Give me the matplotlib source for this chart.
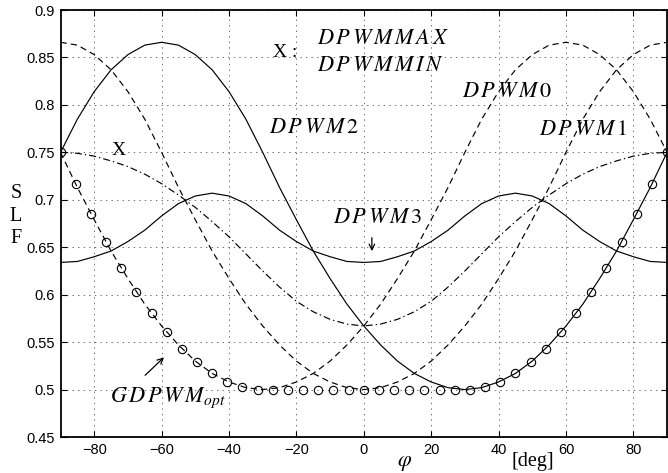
import numpy as np
import matplotlib
matplotlib.use('Agg')
import matplotlib.pyplot as plt

plt.rcParams['font.family'] = ['Liberation Sans', 'DejaVu Sans']
plt.rcParams['mathtext.fontset'] = 'stix'
plt.rcParams['lines.scale_dashes'] = False

# switching loss function vs. phase angle
phi = [-90, -85, -80, -75, -70, -65, -60, -55, -50, -45, -40, -35, -30, -25, -20, -15, -10, -5, 0,
       5, 10, 15, 20, 25, 30, 35, 40, 45, 50, 55, 60, 65, 70, 75, 80, 85, 90]

dpwm0 = [0.750, 0.713, 0.679, 0.646, 0.617, 0.590, 0.567, 0.547, 0.530, 0.517, 0.508, 0.502, 0.500,
         0.502, 0.508, 0.517, 0.530, 0.547, 0.567, 0.590, 0.617, 0.646, 0.679, 0.713, 0.750, 0.785,
         0.814, 0.837, 0.853, 0.863, 0.866, 0.863, 0.853, 0.837, 0.814, 0.785, 0.750]
dpwm1 = [0.866, 0.863, 0.853, 0.837, 0.814, 0.785, 0.750, 0.713, 0.679, 0.646, 0.617, 0.590, 0.567,
         0.547, 0.530, 0.517, 0.508, 0.502, 0.500, 0.502, 0.508, 0.517, 0.530, 0.547, 0.567, 0.590,
         0.617, 0.646, 0.679, 0.713, 0.750, 0.785, 0.814, 0.837, 0.853, 0.863, 0.866]
dpwm2 = [0.750, 0.785, 0.814, 0.837, 0.853, 0.863, 0.866, 0.863, 0.853, 0.837, 0.814, 0.785, 0.750,
         0.713, 0.679, 0.646, 0.617, 0.590, 0.567, 0.547, 0.530, 0.517, 0.508, 0.502, 0.500, 0.502,
         0.508, 0.517, 0.530, 0.547, 0.567, 0.590, 0.617, 0.646, 0.679, 0.713, 0.750]
dpwm3 = [0.634, 0.635, 0.640, 0.646, 0.656, 0.668, 0.683, 0.696, 0.704, 0.707, 0.704, 0.696, 0.683,
         0.668, 0.656, 0.646, 0.640, 0.635, 0.634, 0.635, 0.640, 0.646, 0.656, 0.668, 0.683, 0.696,
         0.704, 0.707, 0.704, 0.696, 0.683, 0.668, 0.656, 0.646, 0.640, 0.635, 0.634]
dpwm_x = [0.750, 0.749, 0.746, 0.741, 0.735, 0.727, 0.717, 0.705, 0.692, 0.677, 0.661, 0.643, 0.625,
          0.608, 0.593, 0.582, 0.574, 0.569, 0.567, 0.569, 0.574, 0.582, 0.593, 0.608, 0.625, 0.643,
          0.661, 0.677, 0.692, 0.705, 0.717, 0.727, 0.735, 0.741, 0.746, 0.749, 0.750]

phi_opt = [-90, -85.5, -81, -76.5, -72, -67.5, -63, -58.5, -54, -49.5, -45, -40.5, -36, -31.5,
           -27, -22.5, -18, -13.5, -9, -4.5, 0, 4.5, 9, 13.5, 18, 22.5, 27,
           31.5, 36, 40.5, 45, 49.5, 54, 58.5, 63, 67.5, 72, 76.5, 81, 85.5, 90]
slf_opt = [0.750, 0.717, 0.685, 0.656, 0.628, 0.603, 0.581, 0.561, 0.543, 0.529, 0.517, 0.508, 0.503, 0.500,
           0.500, 0.500, 0.500, 0.500, 0.500, 0.500, 0.500, 0.500, 0.500, 0.500, 0.500, 0.500, 0.500,
           0.500, 0.503, 0.508, 0.517, 0.529, 0.543, 0.561, 0.581, 0.603, 0.628, 0.656, 0.685, 0.717, 0.750]

xticks = [-80, -60, -40, -20, 0, 20, 40, 60, 80]
yticks = [0.45, 0.5, 0.55, 0.6, 0.65, 0.7, 0.75, 0.8, 0.85, 0.9]
ytick_labels = ['0.45', '0.5', '0.55', '0.6', '0.65', '0.7', '0.75', '0.8', '0.85', '0.9']


def spaced(name, sub=''):
    # math italic with TeX-like loose letter spacing
    s = r'\,'.join(name)
    if sub:
        s += '_{' + sub + '}'
    return '$' + s + '$'


#----------------------------------------------------
fig = plt.figure(figsize=(6.68, 4.73), dpi=100)
ax = fig.add_axes([0.0906, 0.0761, 0.908, 0.9027])

dash = (0, (4.5, 3.0))
dashdot = (0, (5.0, 2.2, 1.0, 2.2))
ax.plot(phi, dpwm0, color='k', lw=0.85, linestyle=dash)
ax.plot(phi, dpwm1, color='k', lw=0.85, linestyle=dash)
ax.plot(phi, dpwm2, color='k', lw=0.85)
ax.plot(phi, dpwm3, color='k', lw=0.85)
ax.plot(phi, dpwm_x, color='k', lw=0.85, linestyle=dashdot)
ax.plot(phi_opt, slf_opt, linestyle='none', marker='o', ms=6, mfc='none', mec='k', mew=0.8)

ax.set_xlim(-90, 90)
ax.set_ylim(0.45, 0.9)
ax.set_xticks(xticks)
ax.set_yticks(yticks)
ax.set_yticklabels(ytick_labels)
ax.tick_params(direction='in', length=4, width=0.8, labelsize=10.5, top=True, right=True, pad=4)
ax.grid(True, color='0.35', linestyle=(0, (1, 3)), lw=0.6)
for s in ax.spines.values():
    s.set_linewidth(1.3)

# curve labels
fs = 16
ax.text(-28, 0.776, spaced('DPWM2'), fontsize=fs, va='center')
ax.text(29, 0.814, spaced('DPWM0'), fontsize=fs, va='center')
ax.text(52, 0.774, spaced('DPWM1'), fontsize=fs, va='center')
ax.text(-9.2, 0.681, spaced('DPWM3'), fontsize=fs, va='center')
ax.text(-72.9, 0.752, 'X', fontsize=14, family='Liberation Serif', ha='center', va='center')
ax.text(-27, 0.855, 'X :', fontsize=14, family='Liberation Serif', va='center')
ax.text(-14, 0.870, spaced('DPWMMAX'), fontsize=fs, va='center')
ax.text(-14, 0.842, spaced('DPWMMIN'), fontsize=fs, va='center')
ax.text(-75.3, 0.491, spaced('GDPWM', 'opt'), fontsize=fs, va='center')

ax.annotate('', xy=(-58.7, 0.536), xytext=(-65.5, 0.513),
            arrowprops=dict(arrowstyle='->', color='k', lw=0.9))
ax.annotate('', xy=(2.4, 0.643), xytext=(2.4, 0.663),
            arrowprops=dict(arrowstyle='->', color='k', lw=0.9))

# axis labels
fig.text(0.024, 0.543, 'S\nL\nF', fontsize=14.5, family='Liberation Serif',
         ha='center', va='center', linespacing=1.25)
fig.text(0.605, 0.023, r'$\varphi$', fontsize=16, ha='center', va='center')
fig.text(0.798, 0.025, '[deg]', fontsize=14.5, family='Liberation Serif', ha='center', va='center')

fig.savefig('out.png', dpi=100)
